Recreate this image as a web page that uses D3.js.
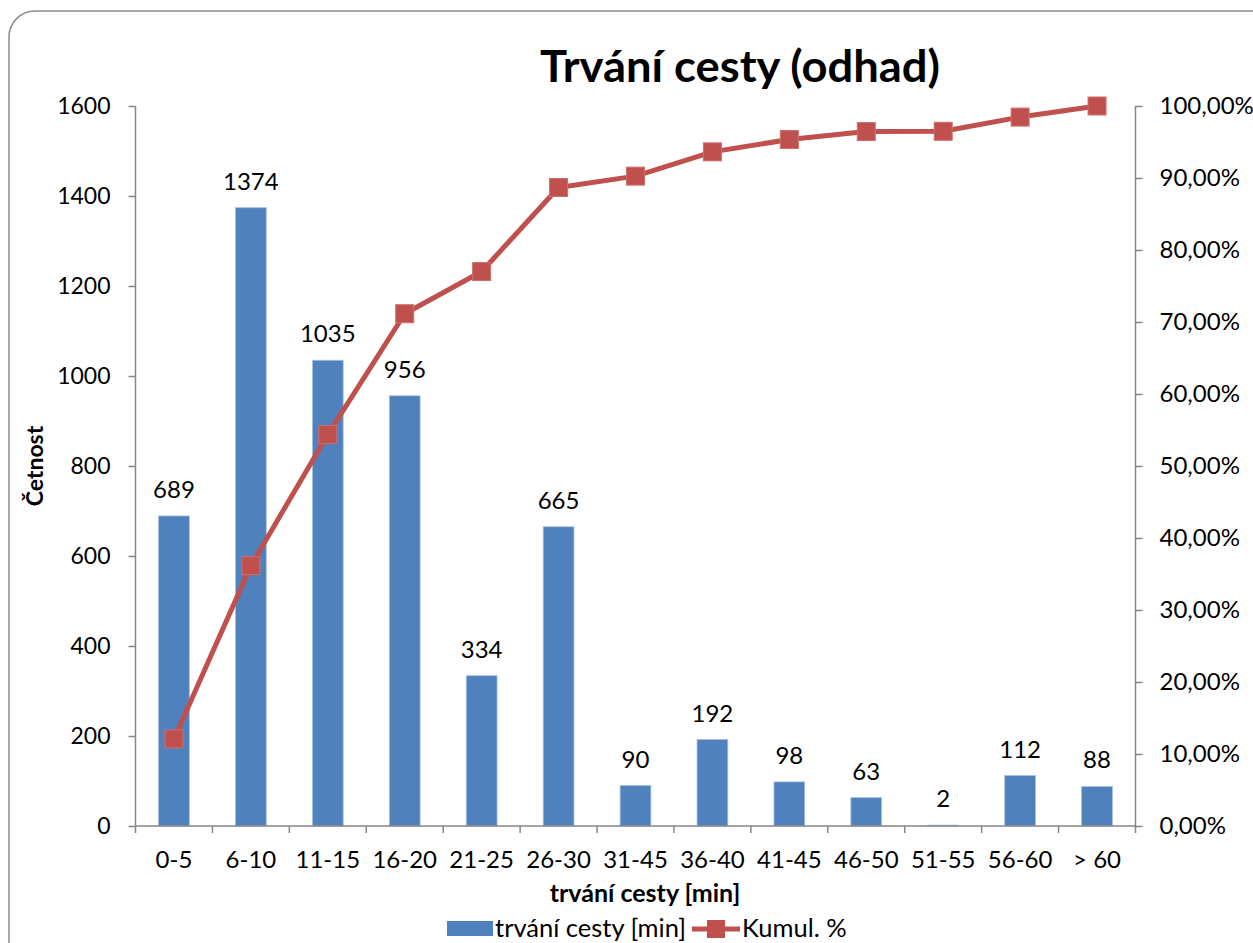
<!DOCTYPE html>
<html>
<head>
<meta charset="utf-8">
<script src="https://cdn.jsdelivr.net/npm/d3@7"></script>
<style>
  html, body { margin: 0; padding: 0; background: #fff; }
  svg { display: block; font-family: Lato, "Open Sans", sans-serif; }
</style>
</head>
<body>
<svg id="chart" width="1253" height="943"></svg>
<script>
// Trip duration categories (minutes)
const categories = ["0-5", "6-10", "11-15", "16-20", "21-25", "26-30", "31-45", "36-40", "41-45", "46-50", "51-55", "56-60", "> 60"];
// Frequency per category
const counts = [689, 1374, 1035, 956, 334, 665, 90, 192, 98, 63, 2, 112, 88];
// Cumulative share (%)
const cumulative = [12.09, 36.16, 54.37, 71.15, 77.01, 88.68, 90.26, 93.63, 95.35, 96.45, 96.49, 98.46, 100.0];
// Axis ticks
const leftTicks = [0, 200, 400, 600, 800, 1000, 1200, 1400, 1600];
const rightTicks = [0, 10, 20, 30, 40, 50, 60, 70, 80, 90, 100];

const svg = d3.select("#chart");
const barColor = "#4F81BD";
const lineColor = "#C0504D";
const axisColor = "#868686";

// Outer chart frame with rounded corners
svg.append("rect")
  .attr("x", 9).attr("y", 11)
  .attr("width", 1280).attr("height", 960)
  .attr("rx", 26).attr("ry", 26)
  .attr("fill", "#fff")
  .attr("stroke", "#8c8c8c").attr("stroke-width", 1.5);

const plot = { left: 135.5, right: 1135.5, top: 106, bottom: 826 };

const x = d3.scaleBand().domain(categories).range([plot.left, plot.right]).paddingInner(0.6).paddingOuter(0.3);
const xc = d3.scaleBand().domain(categories).range([plot.left, plot.right]);
const yL = d3.scaleLinear().domain([0, 1600]).range([plot.bottom, plot.top]);
const yR = d3.scaleLinear().domain([0, 100]).range([plot.bottom, plot.top]);

// Bars
svg.append("g").selectAll("rect").data(counts).join("rect")
  .attr("x", (d, i) => x(categories[i]))
  .attr("y", d => yL(d))
  .attr("width", x.bandwidth())
  .attr("height", d => plot.bottom - yL(d))
  .attr("fill", barColor)
  .attr("stroke", "#a7c0de").attr("stroke-width", 0.8);

// Bar value labels
svg.append("g").selectAll("text").data(counts).join("text")
  .attr("x", (d, i) => x(categories[i]) + x.bandwidth() / 2)
  .attr("y", d => yL(d) - 18)
  .attr("text-anchor", "middle")
  .attr("font-size", 24)
  .attr("fill", "#000")
  .text(d => d);

// Left axis
const leftAxis = d3.axisLeft(yL).tickValues(leftTicks).tickSize(7).tickPadding(18).tickFormat(d3.format("d"));
const gL = svg.append("g").attr("transform", `translate(${plot.left},0)`).call(leftAxis);
// Right axis
const rightAxis = d3.axisRight(yR).tickValues(rightTicks).tickSize(7).tickPadding(17)
  .tickFormat(d => d.toFixed(2).replace(".", ",") + "%");
const gR = svg.append("g").attr("transform", `translate(${plot.right},0)`).call(rightAxis);
// Bottom axis with ticks on category boundaries
const bottomAxis = d3.axisBottom(xc).tickSize(0).tickPadding(25);
const gB = svg.append("g").attr("transform", `translate(0,${plot.bottom})`).call(bottomAxis);
svg.append("g").selectAll("line").data(d3.range(categories.length + 1)).join("line")
  .attr("x1", i => plot.left + i * xc.step()).attr("x2", i => plot.left + i * xc.step())
  .attr("y1", plot.bottom).attr("y2", plot.bottom + 7)
  .attr("stroke", axisColor).attr("stroke-width", 1.5);

[gL, gR, gB].forEach(g => {
  g.select(".domain").attr("stroke", axisColor).attr("stroke-width", 1.5);
  g.selectAll(".tick line").attr("stroke", axisColor).attr("stroke-width", 1.5);
  g.selectAll(".tick text").attr("font-size", 24).attr("fill", "#000").attr("font-family", "Lato, sans-serif");
});
gL.selectAll(".tick text").attr("font-size", 23);
gB.select(".domain").attr("d", `M${plot.left},0H${plot.right}`);
gL.select(".domain").attr("d", `M0,${plot.bottom}V${plot.top}`);
gR.select(".domain").attr("d", `M0,${plot.bottom}V${plot.top}`);

// Cumulative line
const line = d3.line()
  .x((d, i) => xc(categories[i]) + xc.bandwidth() / 2)
  .y(d => yR(d));
svg.append("path").datum(cumulative)
  .attr("d", line)
  .attr("fill", "none")
  .attr("stroke", lineColor).attr("stroke-width", 5)
  .attr("stroke-linejoin", "round");
svg.append("g").selectAll("rect").data(cumulative).join("rect")
  .attr("x", (d, i) => xc(categories[i]) + xc.bandwidth() / 2 - 9)
  .attr("y", d => yR(d) - 9)
  .attr("width", 18).attr("height", 18)
  .attr("fill", lineColor)
  .attr("stroke", "#d06f6c").attr("stroke-width", 1);

// Title
svg.append("text")
  .attr("x", 740).attr("y", 82)
  .attr("text-anchor", "middle")
  .attr("font-size", 44).attr("font-weight", "bold")
  .attr("textLength", 400).attr("lengthAdjust", "spacingAndGlyphs")
  .text("Trvání cesty (odhad)");

// Axis titles
svg.append("text")
  .attr("transform", `translate(43,466) rotate(-90)`)
  .attr("text-anchor", "middle")
  .attr("font-size", 23).attr("font-weight", "bold")
  .text("Četnost");
svg.append("text")
  .attr("x", 645).attr("y", 902)
  .attr("text-anchor", "middle")
  .attr("font-size", 25).attr("font-weight", "bold")
  .text("trvání cesty [min]");

// Legend
const lg = svg.append("g");
lg.append("rect").attr("x", 447).attr("y", 921).attr("width", 46).attr("height", 15).attr("fill", barColor);
lg.append("text").attr("x", 495).attr("y", 937).attr("font-size", 25.5).text("trvání cesty [min]");
lg.append("line").attr("x1", 692).attr("x2", 740).attr("y1", 929).attr("y2", 929)
  .attr("stroke", lineColor).attr("stroke-width", 5);
lg.append("rect").attr("x", 707).attr("y", 920).attr("width", 18).attr("height", 18).attr("fill", lineColor);
lg.append("text").attr("x", 742).attr("y", 937).attr("font-size", 25.5).text("Kumul. %");
</script>
</body>
</html>
